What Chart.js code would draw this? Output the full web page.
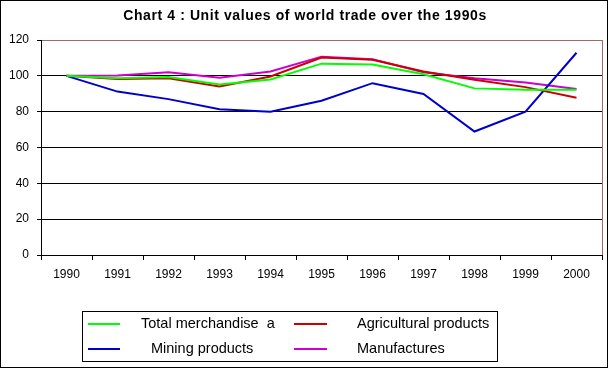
<!DOCTYPE html>
<html><head><meta charset="utf-8">
<script src="https://cdn.jsdelivr.net/npm/chart.js@4"></script>
<style>html,body{margin:0;padding:0;background:#fff}canvas{display:block}</style>
</head>
<body>
<div style="width:609px;height:369px"><canvas id="c" width="609" height="369"></canvas></div>
<script>
const chartTitle = 'Chart 4 : Unit values of world trade over the 1990s';
const years = ['1990','1991','1992','1993','1994','1995','1996','1997','1998','1999','2000'];
const totalMerchandise = [100, 98.6, 99.3, 95.2, 98, 106.8, 106.3, 100.9, 93, 92.2, 92.2];
const agriculturalProducts = [100, 98.3, 98.7, 94, 99.6, 110.2, 109, 102.4, 97.8, 93.7, 87.8];
const miningProducts = [100, 91.2, 87, 81.4, 80, 86.1, 95.9, 89.9, 68.9, 80, 112.9];
const manufactures = [100, 100.2, 102, 99, 102.4, 110.7, 109.3, 102, 98.7, 96.3, 92.6];
const seriesNames = ['Total merchandise  a', 'Agricultural products', 'Mining products', 'Manufactures'];
const yTicks = [0, 20, 40, 60, 80, 100, 120];

const FONT = "'Liberation Sans', Arial, sans-serif";
const frameColor = '#A06868';

const decorPlugin = {
  id: 'decor',
  beforeDraw(chart) {
    const ctx = chart.ctx;
    ctx.save();
    ctx.fillStyle = '#fff';
    ctx.fillRect(0, 0, chart.width, chart.height);
    ctx.restore();
  },
  afterDraw(chart) {
    const ctx = chart.ctx;
    const a = chart.chartArea;
    ctx.save();
    // right frame
    ctx.strokeStyle = frameColor;
    ctx.lineWidth = 1;
    ctx.beginPath();
    ctx.moveTo(Math.round(a.right) + 0.5, a.top);
    ctx.lineTo(Math.round(a.right) + 0.5, a.bottom);
    ctx.stroke();
    // outer border
    ctx.strokeStyle = '#000';
    ctx.strokeRect(0.5, 0.5, 607, 367);
    // title
    ctx.fillStyle = '#000';
    ctx.font = "bold 14px " + FONT;
    if ('letterSpacing' in ctx) ctx.letterSpacing = '0.6px';
    ctx.textAlign = 'center';
    ctx.textBaseline = 'middle';
    ctx.fillText(chartTitle, 305, 16);
    if ('letterSpacing' in ctx) ctx.letterSpacing = '0px';
    // legend box
    ctx.strokeRect(82.5, 311.5, 415, 50);
    const pos = [
      {x1: 88, x2: 120, y: 324, tx: 141},
      {x1: 294, x2: 327, y: 324, tx: 357},
      {x1: 88, x2: 120, y: 349, tx: 151},
      {x1: 294, x2: 327, y: 349, tx: 357}
    ];
    ctx.font = "14.5px " + FONT;
    ctx.textAlign = 'left';
    chart.data.datasets.forEach((ds, i) => {
      const p = pos[i];
      ctx.strokeStyle = ds.borderColor;
      ctx.lineWidth = 2;
      ctx.beginPath();
      ctx.moveTo(p.x1, p.y);
      ctx.lineTo(p.x2, p.y);
      ctx.stroke();
      ctx.fillStyle = '#000';
      ctx.fillText(ds.label, p.tx, p.y);
    });
    ctx.restore();
  }
};

new Chart(document.getElementById('c'), {
  type: 'line',
  data: {
    labels: years,
    datasets: [
      {label: seriesNames[0], data: totalMerchandise, borderColor: '#00FF00'},
      {label: seriesNames[1], data: agriculturalProducts, borderColor: '#CC0000'},
      {label: seriesNames[2], data: miningProducts, borderColor: '#0000CC'},
      {label: seriesNames[3], data: manufactures, borderColor: '#CC00CC'}
    ].map(d => Object.assign(d, {borderWidth: 2, pointRadius: 0, pointHoverRadius: 0, tension: 0, fill: false}))
  },
  options: {
    responsive: false,
    animation: false,
    devicePixelRatio: 1,
    layout: {padding: {top: 40, right: 7, left: 0, bottom: 0}},
    plugins: {legend: {display: false}, title: {display: false}, tooltip: {enabled: false}},
    scales: {
      x: {
        offset: true,
        grid: {offset: true, drawOnChartArea: false, drawTicks: true, tickLength: 5, color: '#000', tickColor: '#000'},
        border: {color: '#000', width: 1},
        ticks: {color: '#000', font: {family: FONT, size: 12}, padding: 7, maxRotation: 0, autoSkip: false},
        afterFit(s) { s.height = 369 - 255; }
      },
      y: {
        min: 0, max: 120,
        afterBuildTicks(s) { s.ticks = yTicks.map(v => ({value: v})); },
        grid: {color: c => (c.tick && c.tick.value === 120) ? frameColor : '#000', tickColor: '#000', tickLength: 4, drawTicks: true},
        border: {color: '#000', width: 1},
        ticks: {color: '#000', font: {family: FONT, size: 12}, padding: 8},
        afterFit(s) { s.width = 41; }
      }
    }
  },
  plugins: [decorPlugin]
});
</script>
</body></html>
